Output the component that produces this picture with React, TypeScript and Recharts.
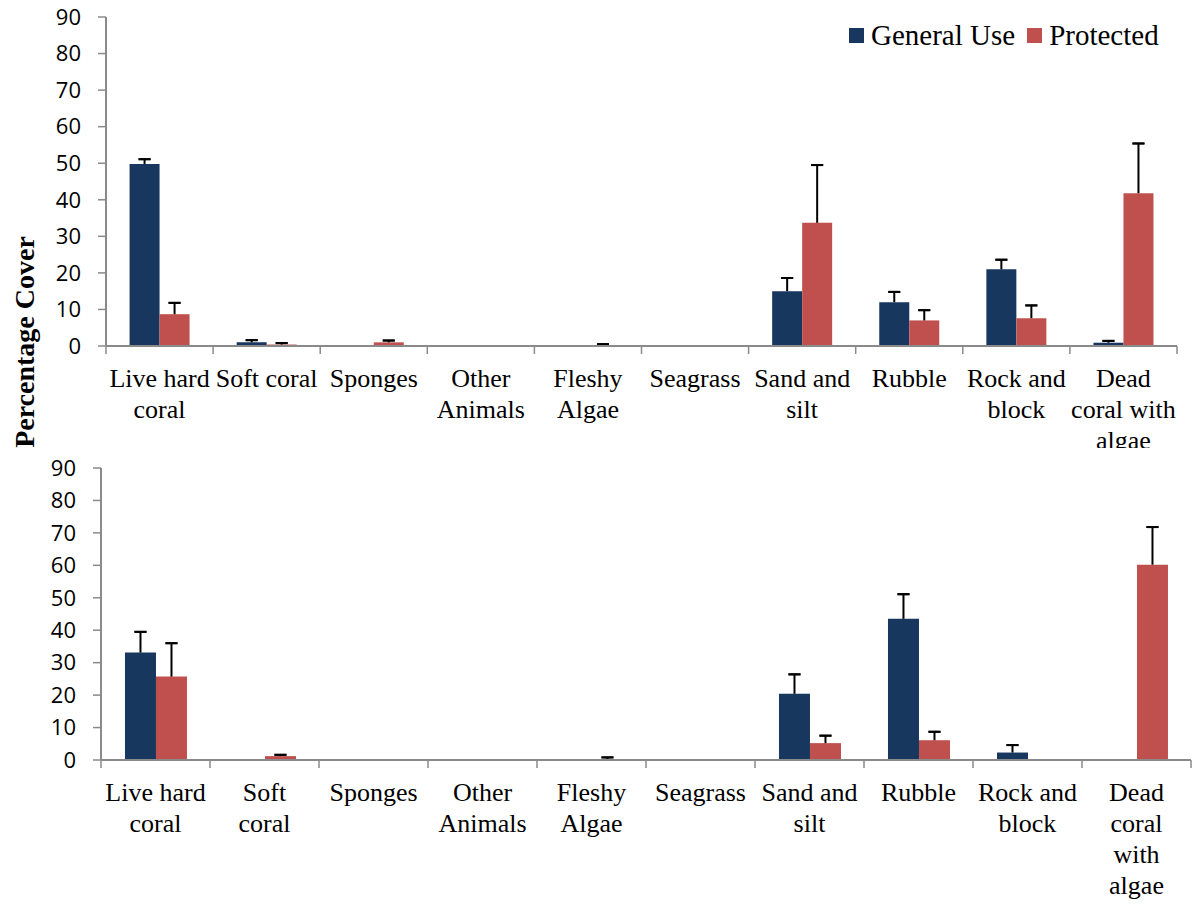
import React from 'react';
import { BarChart, Bar, XAxis, YAxis, ErrorBar, Legend } from 'recharts';

const categories = [
  'Live hard coral',
  'Soft coral',
  'Sponges',
  'Other Animals',
  'Fleshy Algae',
  'Seagrass',
  'Sand and silt',
  'Rubble',
  'Rock and block',
  'Dead coral with algae',
];

// how the tick labels wrap in each panel
const topTickLines = [
  ['Live hard', 'coral'],
  ['Soft coral'],
  ['Sponges'],
  ['Other', 'Animals'],
  ['Fleshy', 'Algae'],
  ['Seagrass'],
  ['Sand and', 'silt'],
  ['Rubble'],
  ['Rock and', 'block'],
  ['Dead', 'coral with', 'algae'],
];
const bottomTickLines = [
  ['Live hard', 'coral'],
  ['Soft', 'coral'],
  ['Sponges'],
  ['Other', 'Animals'],
  ['Fleshy', 'Algae'],
  ['Seagrass'],
  ['Sand and', 'silt'],
  ['Rubble'],
  ['Rock and', 'block'],
  ['Dead', 'coral', 'with', 'algae'],
];

const yTicks = [0, 10, 20, 30, 40, 50, 60, 70, 80, 90];

// top panel (means and upper error)
const topGeneral = [49.8, 1.0, 0, 0, 0, 0, 15.0, 12.0, 21.0, 0.9];
const topGeneralErr = [1.3, 0.6, 0, 0, 0, 0, 3.6, 2.8, 2.6, 0.5];
const topProtected = [8.7, 0.4, 1.0, 0, 0.1, 0, 33.7, 7.0, 7.6, 41.8];
const topProtectedErr = [3.1, 0.4, 0.5, 0, 0.4, 0, 15.8, 2.8, 3.5, 13.6];

// bottom panel
const bottomGeneral = [33.1, 0, 0, 0, 0, 0, 20.4, 43.5, 2.3, 0];
const bottomGeneralErr = [6.4, 0, 0, 0, 0, 0, 6.0, 7.6, 2.3, 0];
const bottomProtected = [25.7, 1.2, 0, 0, 0.1, 0, 5.2, 6.1, 0, 60.2];
const bottomProtectedErr = [10.3, 0.4, 0, 0, 0.7, 0, 2.3, 2.6, 0, 11.6];

const NAVY = '#17375E';
const RED = '#C0504D';
const AXIS = '#8a8a8a';
const SERIF = '"Liberation Serif", "Times New Roman", serif';
const SANS = '"Open Sans", "Noto Sans", sans-serif';

function buildData(gu: number[], guErr: number[], pr: number[], prErr: number[]) {
  return categories.map((name, i) => ({
    name,
    general: gu[i],
    generalErr: guErr[i],
    protected: pr[i],
    protectedErr: prErr[i],
  }));
}

const topData = buildData(topGeneral, topGeneralErr, topProtected, topProtectedErr);
const bottomData = buildData(bottomGeneral, bottomGeneralErr, bottomProtected, bottomProtectedErr);

function CategoryTick(props: any) {
  const { x, y, index, payload, band, lines } = props;
  const rows: string[] = lines[index] ?? [payload.value];
  return (
    <g>
      <line x1={x - band / 2} x2={x - band / 2} y1={y - 8} y2={y} stroke={AXIS} strokeWidth={1.5} />
      {index === lines.length - 1 && (
        <line x1={x + band / 2} x2={x + band / 2} y1={y - 8} y2={y} stroke={AXIS} strokeWidth={1.5} />
      )}
      <text x={x} y={y + 33} textAnchor="middle" fontFamily={SERIF} fontSize={26} fill="#000">
        {rows.map((r, i) => (
          <tspan key={i} x={x} dy={i === 0 ? 0 : 31}>
            {r}
          </tspan>
        ))}
      </text>
    </g>
  );
}

function LegendContent() {
  const items = [
    { label: 'General Use', color: NAVY },
    { label: 'Protected', color: RED },
  ];
  return (
    <div style={{ display: 'flex', alignItems: 'center', fontFamily: SERIF, fontSize: 29, color: '#000' }}>
      {items.map((it) => (
        <div key={it.label} style={{ display: 'flex', alignItems: 'center', marginRight: 12 }}>
          <span style={{ width: 15, height: 15, background: it.color, display: 'inline-block', marginRight: 7 }} />
          <span style={{ lineHeight: '32px' }}>{it.label}</span>
        </div>
      ))}
    </div>
  );
}

interface PanelProps {
  data: any[];
  tickLines: string[][];
  width: number;
  height: number;
  top: number;
  right: number;
  yWidth: number;
  plotHeight: number;
  legend?: boolean;
}

function Panel({ data, tickLines, width, height, top, right, yWidth, plotHeight, legend }: PanelProps) {
  const band = (width - right - yWidth) / data.length;
  const xHeight = height - top - plotHeight;
  return (
    <BarChart
      width={width}
      height={height}
      data={data}
      margin={{ top, right, left: 0, bottom: 0 }}
      barCategoryGap="22%"
      barGap={0}
    >
      <XAxis
        dataKey="name"
        interval={0}
        height={xHeight}
        tickLine={false}
        tickSize={8}
        tickMargin={0}
        axisLine={{ stroke: AXIS, strokeWidth: 2 }}
        tick={(p: any) => <CategoryTick {...p} band={band} lines={tickLines} />}
      />
      <YAxis
        width={yWidth}
        domain={[0, 90]}
        ticks={yTicks}
        interval={0}
        tickSize={8}
        tickMargin={17}
        axisLine={{ stroke: AXIS, strokeWidth: 2 }}
        tickLine={{ stroke: AXIS, strokeWidth: 1.5 }}
        tick={{ fill: '#000', fontFamily: SANS, fontSize: 22 }}
      />
      {legend && (
        <Legend
          layout="horizontal"
          align="center"
          verticalAlign="middle"
          content={<LegendContent />}
          wrapperStyle={{ position: 'absolute', top: 19, left: 849, width: 345, height: 32 }}
        />
      )}
      <Bar dataKey="general" name="General Use" fill={NAVY} isAnimationActive={false}>
        <ErrorBar
          dataKey={(d: any) => (d.generalErr ? [0, d.generalErr] : null)}
          direction="y"
          width={0}
          stroke="#000"
          strokeWidth={2}
          isAnimationActive={false}
        />
        <ErrorBar
          dataKey={(d: any) => (d.generalErr ? [-d.generalErr, d.generalErr] : null)}
          direction="y"
          width={6}
          stroke="#000"
          strokeWidth={2}
          isAnimationActive={false}
        />
      </Bar>
      <Bar dataKey="protected" name="Protected" fill={RED} isAnimationActive={false}>
        <ErrorBar
          dataKey={(d: any) => (d.protectedErr ? [0, d.protectedErr] : null)}
          direction="y"
          width={0}
          stroke="#000"
          strokeWidth={2}
          isAnimationActive={false}
        />
        <ErrorBar
          dataKey={(d: any) => (d.protectedErr ? [-d.protectedErr, d.protectedErr] : null)}
          direction="y"
          width={6}
          stroke="#000"
          strokeWidth={2}
          isAnimationActive={false}
        />
      </Bar>
    </BarChart>
  );
}

export default function App() {
  return (
    <div style={{ position: 'absolute', left: 0, top: 0, width: 1197, height: 909, background: '#fff' }}>
      <div style={{ position: 'absolute', left: 0, top: 0, width: 1197, height: 448, overflow: 'hidden' }}>
        <Panel
          data={topData}
          tickLines={topTickLines}
          width={1197}
          height={448}
          top={17}
          right={20}
          yWidth={106}
          plotHeight={329}
          legend
        />
      </div>
      <div style={{ position: 'absolute', left: 0, top: 448, width: 1197, height: 461, overflow: 'hidden' }}>
        <Panel
          data={bottomData}
          tickLines={bottomTickLines}
          width={1197}
          height={461}
          top={20}
          right={6}
          yWidth={101}
          plotHeight={292}
        />
      </div>
      <svg width={60} height={909} style={{ position: 'absolute', left: 0, top: 0 }}>
        <text
          x={24}
          y={342}
          transform="rotate(-90, 24, 342)"
          textAnchor="middle"
          dominantBaseline="central"
          fontFamily={SERIF}
          fontWeight="bold"
          fontSize={28}
          fill="#000"
        >
          Percentage Cover
        </text>
      </svg>
    </div>
  );
}
